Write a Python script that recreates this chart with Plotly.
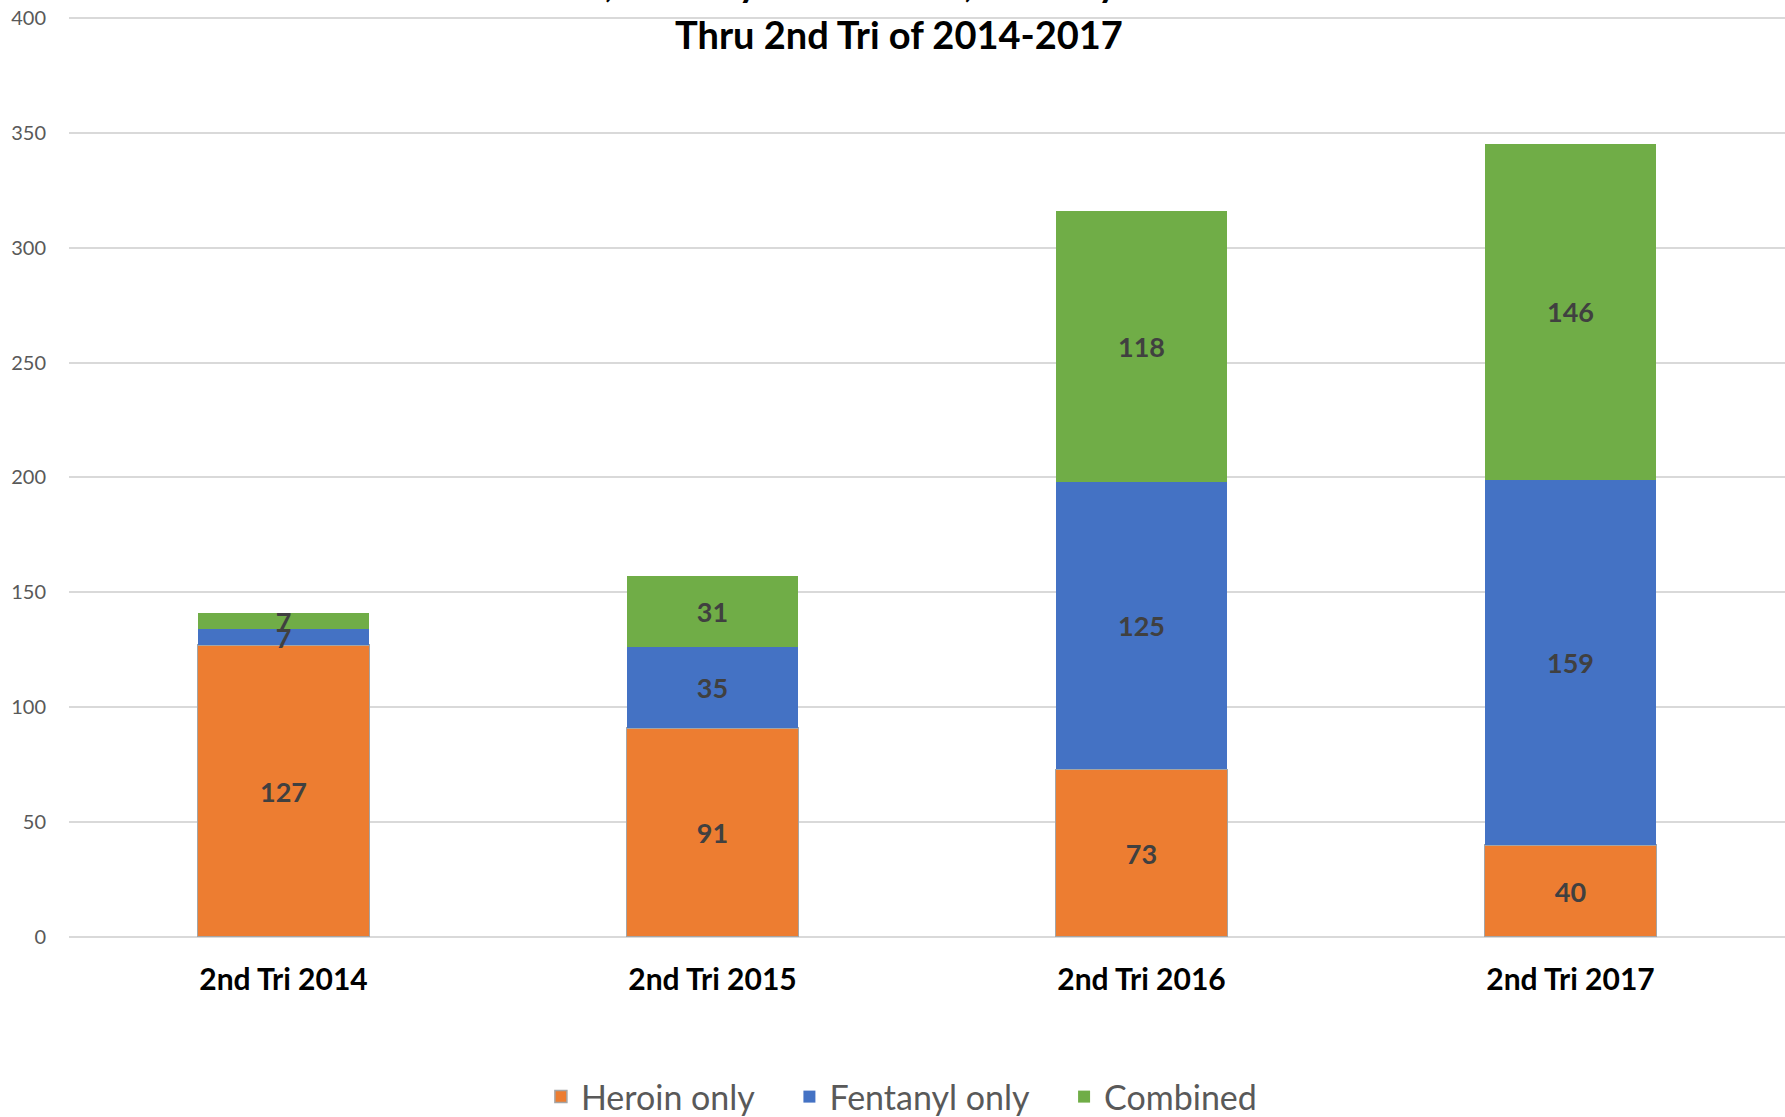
import plotly.graph_objects as go

categories = ["2nd Tri 2014", "2nd Tri 2015", "2nd Tri 2016", "2nd Tri 2017"]
heroin_only = [127, 91, 73, 40]
fentanyl_only = [7, 35, 125, 159]
combined = [7, 31, 118, 146]
y_ticks = [0, 50, 100, 150, 200, 250, 300, 350, 400]
title_line1 = "Heroin, Fentanyl and Heroin, Fentanyl Combined"
title_line2 = "Thru 2nd Tri of 2014-2017"

FONT = "Lato"
label_font = dict(family=FONT, size=27, color="#404040")
PAD = "\u00a0" * 3 + "\u2009"

fig = go.Figure()
series = [
    ("Heroin only" + PAD, heroin_only, "#ED7D31", dict(color="#A5A5A5", width=1.5)),
    ("Fentanyl only" + PAD, fentanyl_only, "#4472C4", dict(width=0)),
    ("Combined", combined, "#70AD47", dict(width=0)),
]
for name, vals, color, line in series:
    fig.add_trace(go.Bar(
        name=name, x=categories, y=vals,
        marker=dict(color=color, line=line),
        text=vals, texttemplate="<b>%{text}</b>",
        textposition="inside", insidetextanchor="middle",
        constraintext="none", textangle=0,
        textfont=label_font,
    ))

fig.update_layout(
    width=1785, height=1117,
    barmode="stack", bargap=0.6,
    plot_bgcolor="white", paper_bgcolor="white",
    margin=dict(l=69, r=0, t=16, b=180),
    font=dict(family=FONT),
    showlegend=True,
    legend=dict(orientation="h", x=0.275, xanchor="left", xref="paper",
                y=0.0179, yanchor="middle", yref="container",
                font=dict(family=FONT, size=34, color="#595959"),
                traceorder="normal"),
    annotations=[
        dict(text="<b>%s</b>" % title_line1, xref="paper", yref="paper", x=0.4837, y=1.064,
             xanchor="center", yanchor="top", showarrow=False,
             font=dict(family=FONT, size=38, color="#000000")),
        dict(text="<b>%s</b>" % title_line2, xref="paper", yref="paper", x=0.4837, y=1.0071,
             xanchor="center", yanchor="top", showarrow=False,
             font=dict(family=FONT, size=38, color="#000000")),
    ],
)
fig.update_xaxes(
    type="category", showgrid=False, showline=False, zeroline=False, automargin=False,
    tickfont=dict(family=FONT, size=30, color="#000000"),
    tickprefix="<b>", ticksuffix="</b>",
    ticks="", ticklabelstandoff=22,
)
fig.update_yaxes(
    range=[0, 400.8], tickvals=y_ticks, showgrid=True, gridcolor="#D9D9D9", gridwidth=1.5,
    zeroline=True, zerolinecolor="#D9D9D9", zerolinewidth=2, showline=False, automargin=False,
    tickfont=dict(family=FONT, size=20, color="#595959"),
    ticks="", ticklabelstandoff=22,
)

fig.write_html("out.html", config={"displayModeBar": False},
               post_script="document.body.style.margin='0';")
